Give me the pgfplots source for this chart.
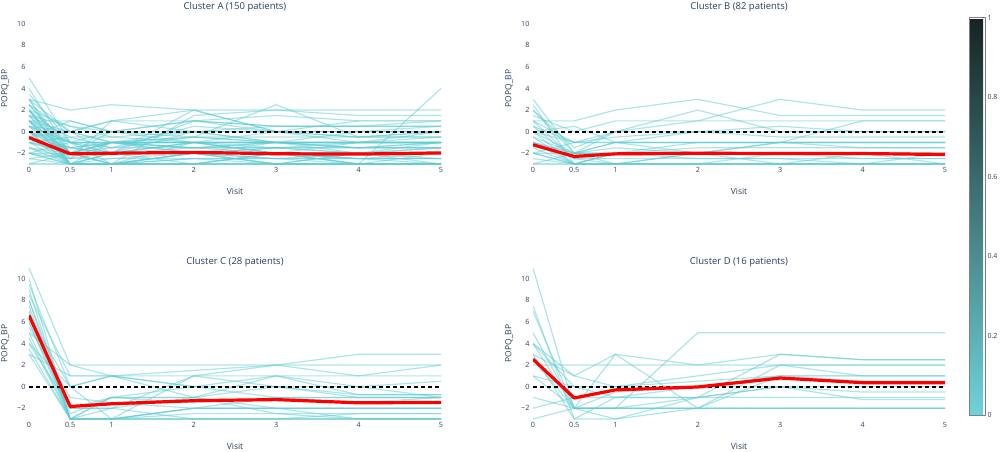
\documentclass[border=0pt]{standalone}
\usepackage{fontspec}
\setmainfont{Open Sans}
\usepackage{pgfplots}
\usepackage{pgfplotstable}
\pgfplotsset{compat=1.18}

\definecolor{tickc}{RGB}{42,63,95}
\definecolor{patc}{RGB}{95,203,210}

% one row per patient: visit 0, 0.5, 1, 2, 3, 4, 5
\pgfplotstableread{
id    v0   v05   v1    v2    v3    v4    v5
visit 0    0.5   1     2     3     4     5
mean  -0.55 -2.06 -2.0 -1.92 -2.05 -2.08 -1.97
a1    5    -1    -2    -2    -2    -2    -2
a2    3    2     2.5   2     2     2     2
a3    3    -3    -3    -2    -3    -3    -3
a4    3    0     1     1     0     0     0
a5    2.5  -2    -2    -1    -1    -1    -1
a6    2    -3    -3    -3    -3    -3    -3
a7    2    0.5   0     1     0.5   0.5   1
a8    1.5  -2    -1    -2    -2    -2    -2
a9    1    0     1     2     0     0     0.5
a10   1    -3    -2    -2    -2.5  -2.5  -2.5
a11   1    1     0     1     1.5   1     1
a12   0.5  -1    -1    -1    -1    -1.5  -1.5
a13   0    -2    -2    -1.5  -1.5  -1.5  -1.5
a14   0    -3    -2.5  -2.5  -2.5  -3    -3
a15   0    -1    0     0     0     0     0
a16   -0.5 -2    -3    -3    -2    -2    -2
a17   -1   -3    -3    -2    -2    -3    -3
a18   -1   -2    -2    -2    -2    -2    -2
a19   -1   -1.5  -1    -0.5  -0.5  -0.5  -0.5
a20   -1.5 -3    -3    -3    -3    -3    -3
a21   -2   -2    -1    -1    -1    -1    -1
a22   -2   -3    -3    -2.5  -2.5  -2.5  -2.5
a23   -2   -2.5  -2.5  -2    -2    -2    -2
a24   -2.5 -3    -3    -3    -3    -3    -3
a25   -3   -3    -3    -3    -3    -3    -3
a26   -3   -2    -2    -3    -2    -3    -2
a27   2    -1    -1.5  -0.5  2.5   -0.5  -0.5
a28   1    -2    -2    -2    -2    -3    4
a29   0.5  -2.5  1     0     0     -1    -1
a30   2.5  -1.5  -2    1     0.5   0.5   0.5
a31   -0.5 1     0     -0.5  -1    -1    -1
a32   3    -2    -1    -1.5  -1    -1    -1
a33   1.5  -0.5  -0.5  -1    -1.5  -2    -2
a34   0    -1.5  -2    -2    -2    -2.5  -2.5
a35   -1   -0.5  -1.5  0.5   0     1     1
a36   2    -3    -2    2     0     -0.5  0
a37   0.5  0     -1    -1    -1    -1    -1
a38   -1.5 -2.5  -2    -2    -2.5  -2    -2
a39   1    -2    -1.5  -1.5  -2    -2    -1.5
a40   -2   -1    -1    -1.5  -1    -1.5  -1.5
a41   0    -3    -3    1.5   2     1.5   1.5
a42   1.5  0.5   -0.5  0     0.5   0.5   0.5
a43   -0.5 -3    -3    -3    -2    -2.5  -3
a44   0.5  -1    -1    -0.5  -1    0     0
a45   2    -2    -2    -2    -2    -2    -1.5
a46   4    -2    -3    -2    -3    -2    -3
a47   3.5  -1    -2    -1    -2    -1    -1
a48   2    -2.5  -1    -1    -2    -2    -2.5
a49   1    -1    -3    -1    -1    -2    -1
a50   -0.5 -1.5  -1    -2    -1.5  -1.5  -1
a51   0    -2    -3    -2.5  -3    -2    -2
a52   -1   -2    0     -1    -1    -1    -0.5
a53   2.5  0     -1    0     -1    -1    0
a54   -2   -3    -2    0     -1    -1    -1
a55   1.5  -3    -3    -2    -1.5  -2    -2
a56   -1.5 -2    -1    -1    -2    -2.5  -2
a57   0.5  -2    -2    -2    -3    -3    -3
a58   -0.5 0     -2    -1    0     -0.5  0
a59   1    -3    -1    -1.5  -1.5  -1    -1
a60   -2.5 -2    -2    -2    -1    -1.5  -1
}\rawA

\pgfplotstableread{
id    v0   v05   v1    v2    v3    v4    v5
visit 0    0.5   1     2     3     4     5
mean  -1.22 -2.3 -2.06 -2.0  -2.03 -2.03 -2.12
b1    3    -2    -1    -2    -2    -2    -2
b2    2    -2    0     2     0     0     0
b3    1    1     2     3     1.5   1.5   1.5
b4    1    -1    0     1     3     2     2
b5    0.5  -2.5  -3    -3    -3    -3    -3
b6    0    -3    -3    -2    -2    -2    -2
b7    0    0.5   -1    -1    -1    -1    -1
b8    -0.5 -2    -2    -2    -2    -2    -2
b9    -1   -3    -3    -3    -3    -3    -3
b10   -1   -2    -1    0     0     0     0
b11   -1.5 -3    -2    -2    -2    -2.5  -2.5
b12   -2   -3    -3    -3    -2    -2    -2
b13   -2   -2    -2    -1    -1    -1    -1
b14   -2.5 -3    -3    -3    -3    -3    -3
b15   -3   -3    -3    -3    -3    -3    -3
b16   -2   -1    -1    -1    -1    -1.5  -1.5
b17   1    -2.5  -2    -2    -1    1     1
b18   -3   -2    -2    -2.5  -2.5  -2.5  -2.5
b19   2    -1.5  0     0     -0.5  -0.5  -0.5
b20   0    -2    -3    -2    -1    -1    -1
b21   -1   -2.5  -2.5  -2.5  -2.5  -3    -3
b22   0.5  -1    -1    -1    -1    -1    -1
b23   -2   -3    -2    -2    -3    -3    -2
b24   1.5  0     1     1     1     1     1
b25   -0.5 -3    -2    -1.5  -1.5  -1.5  -1.5
b26   -1   -2    -1.5  -2    -2    -2    -3
b27   2.5  -3    -3    -3    -3    -2    -2
b28   0    -1    -0.5  0     0.5   0     0
}\rawB

\pgfplotstableread{
id    v0   v05   v1    v2    v3    v4    v5
visit 0    0.5   1     2     3     4     5
mean  6.6  -1.84 -1.59 -1.3  -1.2  -1.5  -1.46
c1    11   2     2     2     2     3     3
c2    10   -3    -3    -3    -3    -3    -3
c3    9.5  0     1     0     -1    -1    -1
c4    9    -3    -3    -2    -2    -2    -2
c5    8.5  1     1     1     1     1     1
c6    8    -2    -1    -1    1     -0.75 -0.75
c7    7.5  -3    -3    -2.5  -2.5  -3    -3
c8    7    -3    -1    0     0     0     0.5
c9    7    -2    -2    -3    -3    -2.5  -2.5
c10   6.5  0     1     0     1     0     -1
c11   6    -3    -3    1     2     1     2
c12   5.5  -1    -1.5  -2    -2    -2    -2
c13   5    -3    -1    -1    -2    -3    -3
c14   5    2     1     -1    0     -1    -1
c15   4.5  -3    -3    -2    -1    -1    -1
c16   4    -2    -2    -1    -2.5  -2.5  -2.5
c17   4    0     -3    -3    -3    -3    -3
c18   3.5  -3    -3    -2    -2    -2    -2
c19   3    1     1     1.5   2     2     2
c20   8    -3    -3    -3    -3    -3    -3
c21   6    -2.5  -1    -1.5  -1    -1.5  -1
c22   3    -3    -2    1     0     -0.75 -0.75
}\rawC

\pgfplotstableread{
id    v0   v05   v1    v2    v3    v4    v5
visit 0    0.5   1     2     3     4     5
mean  2.55 -1.05 -0.3  -0.03 0.8   0.37  0.37
d1    11   -2    -2    5     5     5     5
d2    7.5  -3    -3    -1    3     2.5   2.5
d3    7    -2    3     -2    2     2     2
d4    5    -2    -2    -2    1     1     1
d5    4    0     0     1     2     1     1
d6    4    -2    -2    -2    -2    -2    -2
d7    3    1     3     2     2     2     2
d8    3    -3    -1    -1    0     0     0
d9    2    2     2     2     3     2.5   2.5
d10   1    0     -1    -1    -1    -1    -1
d11   1    -2    -2    -2    -2    -2    -2
d12   -1   -2    -0.5  0     0     -0.5  -0.5
d13   -2   -1    -1    0     1     0.5   0.5
d14   -3   -2    -2    -1    0     -1.2  -1.2
d15   2.5  -2    -3    -2    -2    -2    -2
d16   4    1     0     0.5   1     1     1
}\rawD

\pgfplotstabletranspose[colnames from=id]\tabA{\rawA}
\pgfplotstabletranspose[colnames from=id]\tabB{\rawB}
\pgfplotstabletranspose[colnames from=id]\tabC{\rawC}
\pgfplotstabletranspose[colnames from=id]\tabD{\rawD}

\pgfplotsset{
  panel/.style={
    scale only axis, width=412pt, height=151pt,
    xmin=0, xmax=5, ymin=-3, ymax=11,
    xtick={0,0.5,1,2,3,4,5}, xticklabels={0,0.5,1,2,3,4,5},
    ytick={-2,0,2,4,6,8,10}, yticklabels={−2,0,2,4,6,8,10},
    axis line style={draw=none}, tick style={draw=none},
    ticklabel style={font=\fontsize{7.2}{8}\selectfont, text=tickc},
    title style={font=\fontsize{9.5}{11}\selectfont, text=tickc, anchor=center},
    xlabel=Visit, ylabel=POPQ\_BP,
    xlabel style={at={(0.5,0)}, anchor=center, yshift=-27pt,
      font=\fontsize{8.5}{9}\selectfont, text=tickc},
    ylabel style={at={(0,0.5)}, anchor=center, yshift=24pt,
      font=\fontsize{8.5}{9}\selectfont, text=tickc},
  },
  pat/.style={patc, opacity=0.5, line width=1.2pt},
  avg/.style={red, line width=3.2pt, line join=round},
  zero/.style={black, line width=1.8pt, dash pattern=on 4pt off 3pt},
}

\begin{document}
\begin{tikzpicture}
\begin{axis}[panel, at={(29pt,287pt)}, anchor=south west, title={Cluster A (150 patients)}]
  \pgfplotsinvokeforeach{1,...,60}{\addplot[pat] table[x=visit, y=a#1] {\tabA};}
  \addplot[zero] coordinates {(0,0) (5,0)};
  \addplot[avg] table[x=visit, y=mean] {\tabA};
\end{axis}
\begin{axis}[panel, at={(533pt,287pt)}, anchor=south west, title={Cluster B (82 patients)}]
  \pgfplotsinvokeforeach{1,...,28}{\addplot[pat] table[x=visit, y=b#1] {\tabB};}
  \addplot[zero] coordinates {(0,0) (5,0)};
  \addplot[avg] table[x=visit, y=mean] {\tabB};
\end{axis}
\begin{axis}[panel, at={(29pt,32pt)}, anchor=south west, title={Cluster C (28 patients)}]
  \pgfplotsinvokeforeach{1,...,22}{\addplot[pat] table[x=visit, y=c#1] {\tabC};}
  \addplot[zero] coordinates {(0,0) (5,0)};
  \addplot[avg] table[x=visit, y=mean] {\tabC};
\end{axis}
\begin{axis}[panel, at={(533pt,32pt)}, anchor=south west, title={Cluster D (16 patients)}]
  \pgfplotsinvokeforeach{1,...,16}{\addplot[pat] table[x=visit, y=d#1] {\tabD};}
  \addplot[zero] coordinates {(0,0) (5,0)};
  \addplot[avg] table[x=visit, y=mean] {\tabD};
\end{axis}
% colour scale
\begin{axis}[at={(969pt,433pt)}, anchor=north west, hide axis, scale only axis,
  width=1pt, height=1pt, xmin=0, xmax=1, ymin=0, ymax=1,
  point meta min=0, point meta max=1,
  colormap={tealmap}{rgb255(0cm)=(110,211,217); rgb255(1cm)=(22,36,36)},
  colorbar, colorbar shift/.style={xshift=0pt},
  colorbar style={at={(parent axis.north west)}, anchor=north west,
    scale only axis, width=16pt, height=397pt,
    ytick={0,0.2,0.4,0.6,0.8,1}, yticklabels={0,0.2,0.4,0.6,0.8,1},
    yticklabel pos=right, tick style={draw=none},
    axis line style={draw=gray, line width=1pt},
    yticklabel style={font=\fontsize{7}{8}\selectfont, text=tickc, xshift=-1pt}}]
  \addplot[draw=none] coordinates {(0,0)};
\end{axis}
\pgfresetboundingbox
\path[use as bounding box] (0,0) rectangle (1000pt,451pt);
\end{tikzpicture}
\end{document}
